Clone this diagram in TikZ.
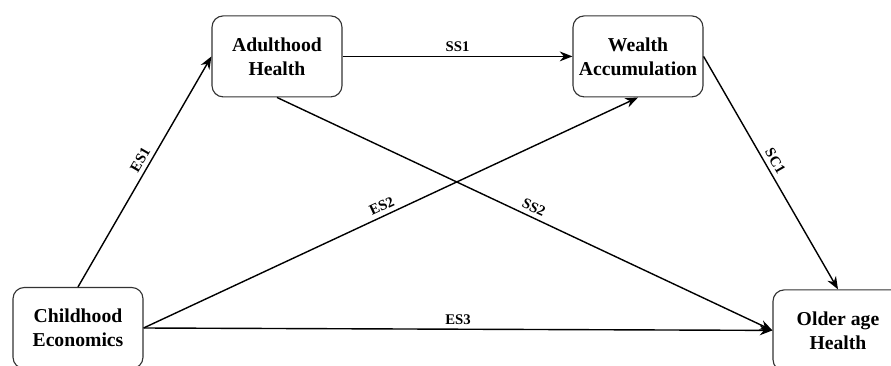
\documentclass[tikz,border=0pt]{standalone}
\usepackage{fontspec}
\setmainfont{Liberation Serif}
\usepackage{tikz}
\usetikzlibrary{arrows.meta}

\begin{document}
\begin{tikzpicture}[
    stage/.style={draw=black!80, line width=0.8pt, rounded corners=8pt, fill=white,
      minimum width=3.25cm, minimum height=2.025cm, align=center,
      font=\fontsize{14}{17}\selectfont\bfseries},
    path/.style={line width=1pt, -{Stealth[length=9pt,width=7pt]}},
    lbl/.style={font=\fontsize{10.5}{12}\selectfont\bfseries, inner sep=3pt}]
        \useasboundingbox (0,0) rectangle (22.275,-9.15);
        \node [stage] (adult) at (6.925,-1.41) {Adulthood\\Health};
        \node [stage] (wealth) at (15.95,-1.41) {Wealth\\Accumulation};
        \node [stage] (child) at (1.95,-8.2) {Childhood\\Economics};
        \node [stage] (older) at (20.95,-8.26) {Older age\\Health};
      \draw [path] (child.north) -- node [lbl, pos=0.53, above, sloped] {ES1} (adult.west);
      \draw [path] (adult.east) -- node [lbl, above] {SS1} (wealth.west);
      \draw [path] (child.east) -- node [lbl, pos=0.49, above, sloped] {ES2} (wealth.south);
      \draw [path] (adult.south) -- node [lbl, pos=0.51, above, sloped] {SS2} (older.west);
      \draw [path] (child.east) -- node [lbl, above] {ES3} (older.west);
      \draw [path] (wealth.east) -- node [lbl, pos=0.47, above, sloped] {SC1} (older.north);
    \end{tikzpicture}
\end{document}
